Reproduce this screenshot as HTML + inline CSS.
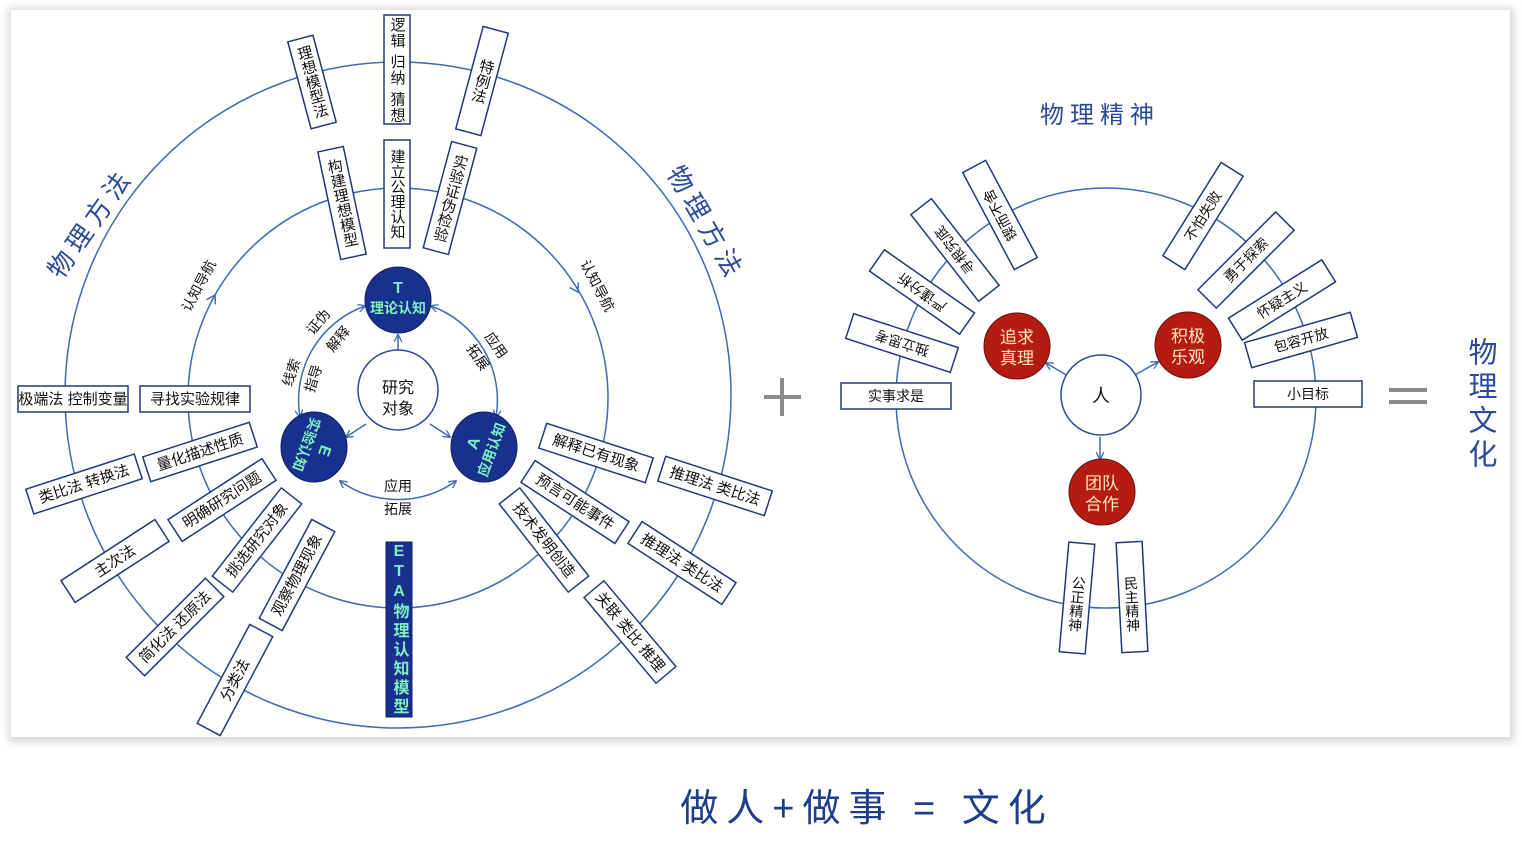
<!DOCTYPE html>
<html><head><meta charset="utf-8"><style>
html,body{margin:0;padding:0;background:#fff;}
svg{display:block;}
text{font-family:"Liberation Sans","Noto Sans CJK SC",sans-serif;}
</style></head><body>
<svg width="1522" height="852" viewBox="0 0 1522 852" xmlns="http://www.w3.org/2000/svg">
<defs>
<marker id="ar" viewBox="0 0 10 10" refX="9" refY="5" markerWidth="8" markerHeight="8" orient="auto-start-reverse" markerUnits="userSpaceOnUse"><path d="M0,0 L10,5 L0,10" fill="none" stroke="#3d6bb5" stroke-width="1.6"/></marker>
<filter id="sh" x="-5%" y="-5%" width="110%" height="110%"><feGaussianBlur stdDeviation="4"/></filter>
</defs>
<rect x="0" y="0" width="1522" height="852" fill="#fff"/>
<rect x="8" y="8" width="1506" height="734" fill="#d8d8d8" filter="url(#sh)"/>
<rect x="11" y="10" width="1499" height="727" fill="#fff"/>

<g fill="none" stroke="#3d6bb5" stroke-width="1.5">
<circle cx="398" cy="395" r="333"/>
<circle cx="398" cy="398" r="210"/>
<circle cx="1106" cy="398" r="210"/>
<path d="M300 417 A100 100 0 0 1 365 306" marker-start="url(#ar)" marker-end="url(#ar)"/>
<path d="M431 306 A100 100 0 0 1 496 417" marker-start="url(#ar)" marker-end="url(#ar)"/>
<path d="M340 481 A100 100 0 0 0 456 481" marker-start="url(#ar)" marker-end="url(#ar)"/>
<path d="M398 358 L398 335" marker-end="url(#ar)"/>
<path d="M366 424 L346 437" marker-end="url(#ar)"/>
<path d="M430 424 L450 437" marker-end="url(#ar)"/>
<path d="M1068 376 L1046 363" marker-end="url(#ar)"/>
<path d="M1133 376 L1158 362" marker-end="url(#ar)"/>
<path d="M1100 437 L1100 459" marker-end="url(#ar)"/>
<path d="M215.4 304.4 L215 295 L206.6 299.6"/>
<path d="M578.3 282.4 L578 292 L569.7 287.6"/>
</g>

<!-- left nodes -->
<circle cx="398" cy="390" r="40" fill="#fff" stroke="#2a4b9c" stroke-width="1.5"/>
<text x="398" y="393" font-size="16" text-anchor="middle" fill="#111">研究</text>
<text x="398" y="414" font-size="16" text-anchor="middle" fill="#111">对象</text>
<circle cx="398" cy="300" r="33" fill="#18308e" stroke="#0f1f66"/>
<text x="398" y="293" font-size="16" font-weight="bold" text-anchor="middle" fill="#7ff0c0">T</text>
<text x="398" y="313" font-size="14" font-weight="bold" text-anchor="middle" fill="#7ff0c0">理论认知</text>
<ellipse cx="314" cy="447" rx="33" ry="35" fill="#18308e" stroke="#0f1f66"/>
<g transform="translate(314,447) rotate(110)"><text x="0" y="-6" font-size="16" font-weight="bold" text-anchor="middle" fill="#7ff0c0">E</text><text x="0" y="13" font-size="14" font-weight="bold" text-anchor="middle" fill="#7ff0c0">实验认知</text></g>
<ellipse cx="484" cy="447" rx="33" ry="35" fill="#18308e" stroke="#0f1f66"/>
<g transform="translate(484,447) rotate(-70)"><text x="0" y="-6" font-size="16" font-weight="bold" text-anchor="middle" fill="#7ff0c0">A</text><text x="0" y="13" font-size="14" font-weight="bold" text-anchor="middle" fill="#7ff0c0">应用认知</text></g>

<!-- arc labels -->
<g font-size="14" fill="#111" text-anchor="middle">
<text transform="translate(322,325) rotate(-50)">证伪</text>
<text transform="translate(342,342) rotate(-50)">解释</text>
<text transform="translate(296,374) rotate(-72)">线索</text>
<text transform="translate(318,380) rotate(-72)">指导</text>
<text transform="translate(492,348) rotate(55)">应用</text>
<text transform="translate(474,360) rotate(55)">拓展</text>
<text x="398" y="491">应用</text>
<text x="398" y="514">拓展</text>
<text transform="translate(203,288) rotate(-62)">认知导航</text>
<text transform="translate(593,288) rotate(62)">认知导航</text>
</g>
<text transform="translate(98,228) rotate(-55)" font-size="26" fill="#2c4a9a" text-anchor="middle" letter-spacing="6">物理方法</text>
<text transform="translate(698,228) rotate(60)" font-size="26" fill="#2c4a9a" text-anchor="middle" letter-spacing="6">物理方法</text>

<!-- vertical boxes -->
<g fill="#fff" stroke="#1f3a7a" stroke-width="1.5">
<rect x="-13" y="-45" width="26" height="90" transform="translate(312,82) rotate(-15)"/>
<rect x="384" y="15" width="26" height="109"/>
<rect x="-13" y="-53" width="26" height="106" transform="translate(482,81) rotate(15)"/>
<rect x="-13" y="-55" width="26" height="110" transform="translate(342,203) rotate(-12)"/>
<rect x="384" y="140" width="26" height="108"/>
<rect x="-13" y="-55" width="26" height="110" transform="translate(450,198) rotate(15)"/>
<rect x="-13" y="-55" width="26" height="110" transform="translate(1077,598) rotate(5)"/>
<rect x="-13" y="-55" width="26" height="110" transform="translate(1132,597) rotate(-3)"/>
</g>
<g font-size="15" fill="#111" text-anchor="middle">
<text transform="translate(312,82) rotate(-15)" style="writing-mode:vertical-rl">理想模型法</text>
<text x="397" y="70" style="writing-mode:vertical-rl" letter-spacing="1">逻辑 归纳 猜想</text>
<text transform="translate(482,81) rotate(15)" style="writing-mode:vertical-rl">特例法</text>
<text transform="translate(342,203) rotate(-12)" style="writing-mode:vertical-rl">构建理想模型</text>
<text x="397" y="194" style="writing-mode:vertical-rl">建立公理认知</text>
<text transform="translate(450,198) rotate(15)" style="writing-mode:vertical-rl">实验证伪检验</text>
<text transform="translate(1077,604) rotate(5)" font-size="14" style="writing-mode:vertical-rl">公正精神</text>
<text transform="translate(1132,604) rotate(-3)" font-size="14" style="writing-mode:vertical-rl">民主精神</text>
</g>

<!-- ETA -->
<rect x="386" y="542" width="26" height="175" fill="#18308e" stroke="#0f1f66"/>
<text x="399" y="630" font-size="16" font-weight="bold" fill="#7ff0c0" text-anchor="middle" letter-spacing="3" style="writing-mode:vertical-rl;text-orientation:upright">ETA物理认知模型</text>

<!-- horizontal-ish boxes -->
<g font-size="15" fill="#111">
<g transform="translate(73,399)"><rect x="-55" y="-13" width="110" height="26" fill="#fff" stroke="#1f3a7a" stroke-width="1.5"/><text x="0" y="5" text-anchor="middle">极端法 控制变量</text></g>
<g transform="translate(195,399)"><rect x="-55" y="-13" width="110" height="26" fill="#fff" stroke="#1f3a7a" stroke-width="1.5"/><text x="0" y="5" text-anchor="middle">寻找实验规律</text></g>
<g transform="translate(200,452) rotate(-18)"><rect x="-56" y="-13" width="112" height="26" fill="#fff" stroke="#1f3a7a" stroke-width="1.5"/><text x="0" y="5" text-anchor="middle">量化描述性质</text></g>
<g transform="translate(84,484) rotate(-18)"><rect x="-57" y="-13" width="114" height="26" fill="#fff" stroke="#1f3a7a" stroke-width="1.5"/><text x="0" y="5" text-anchor="middle">类比法 转换法</text></g>
<g transform="translate(222,500) rotate(-33)"><rect x="-56" y="-13" width="112" height="26" fill="#fff" stroke="#1f3a7a" stroke-width="1.5"/><text x="0" y="5" text-anchor="middle">明确研究问题</text></g>
<g transform="translate(115,561) rotate(-33)"><rect x="-56" y="-13" width="112" height="26" fill="#fff" stroke="#1f3a7a" stroke-width="1.5"/><text x="0" y="5" text-anchor="middle">主次法</text></g>
<g transform="translate(257,540) rotate(-52)"><rect x="-56" y="-13" width="112" height="26" fill="#fff" stroke="#1f3a7a" stroke-width="1.5"/><text x="0" y="5" text-anchor="middle">挑选研究对象</text></g>
<g transform="translate(297,575) rotate(-62)"><rect x="-56" y="-13" width="112" height="26" fill="#fff" stroke="#1f3a7a" stroke-width="1.5"/><text x="0" y="5" text-anchor="middle">观察物理现象</text></g>
<g transform="translate(175,627) rotate(-45)"><rect x="-56" y="-13" width="112" height="26" fill="#fff" stroke="#1f3a7a" stroke-width="1.5"/><text x="0" y="5" text-anchor="middle">简化法 还原法</text></g>
<g transform="translate(235,680) rotate(-62)"><rect x="-56" y="-13" width="112" height="26" fill="#fff" stroke="#1f3a7a" stroke-width="1.5"/><text x="0" y="5" text-anchor="middle">分类法</text></g>
<g transform="translate(596,453) rotate(18)"><rect x="-56" y="-13" width="112" height="26" fill="#fff" stroke="#1f3a7a" stroke-width="1.5"/><text x="0" y="5" text-anchor="middle">解释已有现象</text></g>
<g transform="translate(715,486) rotate(18)"><rect x="-56" y="-13" width="112" height="26" fill="#fff" stroke="#1f3a7a" stroke-width="1.5"/><text x="0" y="5" text-anchor="middle">推理法 类比法</text></g>
<g transform="translate(575,502) rotate(33)"><rect x="-56" y="-13" width="112" height="26" fill="#fff" stroke="#1f3a7a" stroke-width="1.5"/><text x="0" y="5" text-anchor="middle">预言可能事件</text></g>
<g transform="translate(682,563) rotate(33)"><rect x="-56" y="-13" width="112" height="26" fill="#fff" stroke="#1f3a7a" stroke-width="1.5"/><text x="0" y="5" text-anchor="middle">推理法 类比法</text></g>
<g transform="translate(544,540) rotate(52)"><rect x="-56" y="-13" width="112" height="26" fill="#fff" stroke="#1f3a7a" stroke-width="1.5"/><text x="0" y="5" text-anchor="middle">技术发明创造</text></g>
<g transform="translate(630,632) rotate(50)"><rect x="-56" y="-13" width="112" height="26" fill="#fff" stroke="#1f3a7a" stroke-width="1.5"/><text x="0" y="5" text-anchor="middle">关联 类比 推理</text></g>
</g>

<!-- right diagram boxes -->
<g font-size="14" fill="#111">
<g transform="translate(896,396)"><rect x="-55" y="-13" width="110" height="26" fill="#fff" stroke="#1f3a7a" stroke-width="1.5"/><text x="0" y="5" text-anchor="middle">实事求是</text></g>
<g transform="translate(902,343) rotate(198)"><rect x="-55" y="-13" width="110" height="26" fill="#fff" stroke="#1f3a7a" stroke-width="1.5"/><text x="0" y="5" text-anchor="middle">独立思考</text></g>
<g transform="translate(922,292) rotate(215)"><rect x="-55" y="-13" width="110" height="26" fill="#fff" stroke="#1f3a7a" stroke-width="1.5"/><text x="0" y="5" text-anchor="middle">严谨分析</text></g>
<g transform="translate(955,250) rotate(232)"><rect x="-55" y="-13" width="110" height="26" fill="#fff" stroke="#1f3a7a" stroke-width="1.5"/><text x="0" y="5" text-anchor="middle">寻根究底</text></g>
<g transform="translate(1000,215) rotate(242)"><rect x="-55" y="-13" width="110" height="26" fill="#fff" stroke="#1f3a7a" stroke-width="1.5"/><text x="0" y="5" text-anchor="middle">锲而不舍</text></g>
<g transform="translate(1203,216) rotate(-58)"><rect x="-55" y="-13" width="110" height="26" fill="#fff" stroke="#1f3a7a" stroke-width="1.5"/><text x="0" y="5" text-anchor="middle">不怕失败</text></g>
<g transform="translate(1246,260) rotate(-45)"><rect x="-55" y="-13" width="110" height="26" fill="#fff" stroke="#1f3a7a" stroke-width="1.5"/><text x="0" y="5" text-anchor="middle">勇于探索</text></g>
<g transform="translate(1282,300) rotate(-32)"><rect x="-55" y="-13" width="110" height="26" fill="#fff" stroke="#1f3a7a" stroke-width="1.5"/><text x="0" y="5" text-anchor="middle">怀疑主义</text></g>
<g transform="translate(1301,340) rotate(-16)"><rect x="-55" y="-13" width="110" height="26" fill="#fff" stroke="#1f3a7a" stroke-width="1.5"/><text x="0" y="5" text-anchor="middle">包容开放</text></g>
<g transform="translate(1308,394)"><rect x="-54" y="-13" width="108" height="26" fill="#fff" stroke="#1f3a7a" stroke-width="1.5"/><text x="0" y="5" text-anchor="middle">小目标</text></g>
</g>

<!-- right nodes -->
<circle cx="1101" cy="395" r="40" fill="#fff" stroke="#2a4b9c" stroke-width="1.5"/>
<text x="1101" y="402" font-size="18" text-anchor="middle" fill="#111">人</text>
<g font-size="17" fill="#ffe6c0" text-anchor="middle">
<circle cx="1017" cy="346" r="33" fill="#b41c12" stroke="#6a100a"/>
<text x="1017" y="343">追求</text><text x="1017" y="364">真理</text>
<circle cx="1188" cy="345" r="33" fill="#b41c12" stroke="#6a100a"/>
<text x="1188" y="342">积极</text><text x="1188" y="363">乐观</text>
<circle cx="1102" cy="492" r="33" fill="#b41c12" stroke="#6a100a"/>
<text x="1102" y="489">团队</text><text x="1102" y="510">合作</text>
</g>
<text x="1100" y="123" font-size="24" fill="#2c4a9a" text-anchor="middle" letter-spacing="6">物理精神</text>

<!-- plus and equals -->
<rect x="764" y="395" width="37" height="4" fill="#8a8a8a"/>
<rect x="780" y="378" width="4" height="38" fill="#8a8a8a"/>
<rect x="1389" y="388" width="38" height="4" fill="#8a8a8a"/>
<rect x="1389" y="400" width="38" height="4" fill="#8a8a8a"/>
<text x="1480" y="405" font-size="29" fill="#2c4a9a" text-anchor="middle" style="writing-mode:vertical-rl" letter-spacing="5">物理文化</text>

<text x="867" y="821" font-size="38" fill="#1f3d8a" text-anchor="middle" letter-spacing="8">做人+做事 = 文化</text>
</svg>
</body></html>
